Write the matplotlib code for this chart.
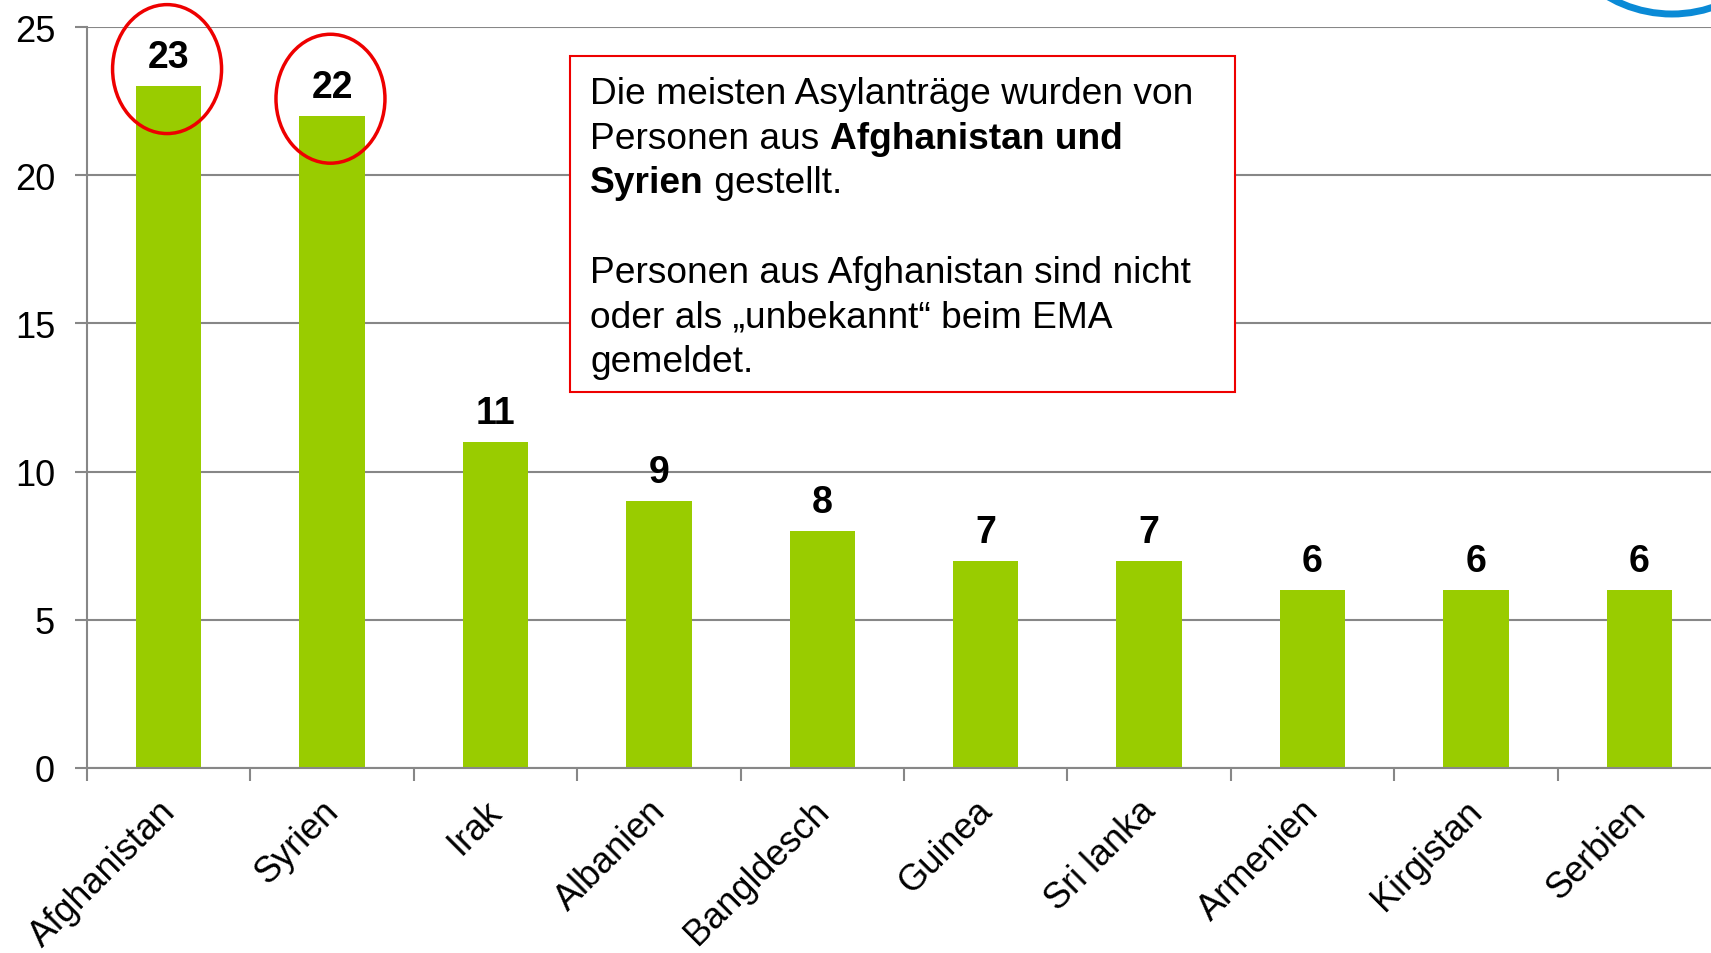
import matplotlib
matplotlib.use("Agg")
import matplotlib.pyplot as plt
import matplotlib.transforms as mtransforms
import numpy as np
from matplotlib.patches import Ellipse, Rectangle, Arc

plt.rcParams['font.family'] = ['Liberation Sans', 'DejaVu Sans']

# data
countries = ['Afghanistan', 'Syrien', 'Irak', 'Albanien', 'Bangldesch',
             'Guinea', 'Sri lanka', 'Armenien', 'Kirgistan', 'Serbien']
antraege = [23, 22, 11, 9, 8, 7, 7, 6, 6, 6]
highlighted = ['Afghanistan', 'Syrien']

W, H = 1711, 954
fig = plt.figure(figsize=(W / 100, H / 100), dpi=100)
ax = fig.add_axes([87 / W, 1 - 769 / H, 1 - 87 / W, (769 - 28) / H])

x = np.arange(len(countries))
ax.bar(x, antraege, width=0.40, color='#99CC00', zorder=3)

ax.set_ylim(0, 25)
ax.set_xlim(-0.5, -0.5 + (W - 87) / 163.4)
ax.set_yticks([0, 5, 10, 15, 20, 25])
ax.grid(axis='y', color='#878787', linewidth=1.5, zorder=0)

grey = '#878787'
for s in ['top', 'right']:
    ax.spines[s].set_visible(False)
for s in ['left', 'bottom']:
    ax.spines[s].set_color(grey)
    ax.spines[s].set_linewidth(1.5)
ax.spines['bottom'].set_zorder(4)

ax.tick_params(axis='y', length=9, width=1.5, color=grey, labelsize=26, pad=14)
ax.set_xticks(x)
ax.set_xticklabels(countries, rotation=45, ha='right', rotation_mode='anchor',
                   fontsize=26)
ax.tick_params(axis='x', length=0, pad=18)
shift = mtransforms.ScaledTranslation(-0.11, 0, fig.dpi_scale_trans)
for lab in ax.get_xticklabels():
    lab.set_transform(lab.get_transform() + shift)
ax.set_xticks(np.arange(len(countries)) - 0.5, minor=True)
ax.tick_params(axis='x', which='minor', length=9, width=1.5, color=grey)

for xi, v in zip(x, antraege):
    ax.text(xi, v + 0.37, str(v), ha='center', va='bottom', fontsize=27,
            fontweight='bold', zorder=5)

# red circles around the two largest values
for name in highlighted:
    i = countries.index(name)
    ax.add_patch(Ellipse((i - 0.01, antraege[i] + 0.58), 0.667, 4.35, fill=False,
                         edgecolor='#EE0000', linewidth=2.5, zorder=6,
                         clip_on=False))

# text box
fig.patches.append(Rectangle((570 / W, 1 - 393 / H), (1235 - 570) / W,
                             (393 - 57) / H, transform=fig.transFigure,
                             facecolor='white', edgecolor='#EE0000',
                             linewidth=1.5, zorder=10))
fs = 26.7
left = 590 / W
lines = [
    [('Die meisten Asylanträge wurden von', 'normal')],
    [('Personen aus\u00a0', 'normal'), ('Afghanistan und', 'bold')],
    [('Syrien', 'bold'), ('\u00a0gestellt.', 'normal')],
    [],
    [('Personen aus Afghanistan sind nicht', 'normal')],
    [('oder als \u201eunbekannt\u201c beim EMA', 'normal')],
    [('gemeldet.', 'normal')],
]
renderer = fig.canvas.get_renderer()
for li, parts in enumerate(lines):
    yb = 1 - (104 + li * 44.7) / H
    xpos = left
    for txt, wt in parts:
        t = fig.text(xpos, yb, txt, fontsize=fs, fontweight=wt,
                     va='baseline', ha='left', zorder=11)
        bb = t.get_window_extent(renderer)
        xpos = bb.x1 / W

# blue arc of logo in the top right corner
fig.patches.append(Arc((1672 / W, 1 + 112.5 / H), 255 / W, 255 / H,
                       theta1=180, theta2=360, transform=fig.transFigure,
                       edgecolor='#0A8AD6', linewidth=5))

fig.savefig('out.png', dpi=100)
